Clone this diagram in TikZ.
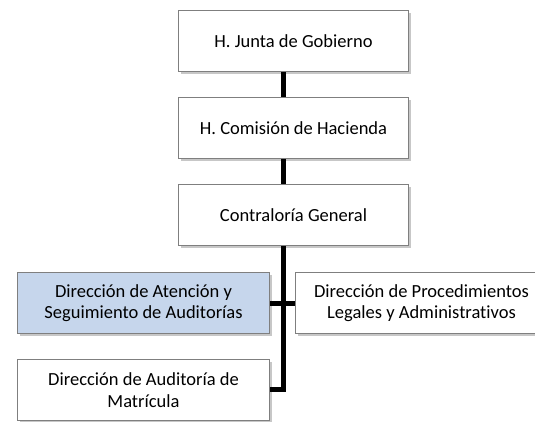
\documentclass[tikz,border=0pt]{standalone}
\usepackage{fontspec}
\setmainfont{Carlito}[Ligatures=NoCommon]
\usetikzlibrary{shadows}
\definecolor{boxline}{HTML}{7F7F7F}
\definecolor{bluefill}{HTML}{C6D6EC}
\tikzset{
  orgbox/.style={draw=boxline, line width=1pt, fill=white, minimum width=#1, minimum height=61pt, align=center, inner sep=0pt,
    font=\fontsize{18.5}{21.5}\selectfont,
    drop shadow={shadow xshift=2pt, shadow yshift=-2.5pt, opacity=0.22, fill=black}},
  orgbox/.default=230pt,
  link/.style={line width=5pt, line cap=butt}
}
\begin{document}
\begin{tikzpicture}[x=1pt,y=-1pt]
\useasboundingbox (0,0) rectangle (535,422);
\begin{scope}
\clip (0,0) rectangle (535,422);
\node[orgbox=230pt, anchor=north west] (jg) at (178,10) {H. Junta de Gobierno};
\node[orgbox=230pt, anchor=north west] (ch) at (178,97) {H. Comisión de Hacienda};
\node[orgbox=230pt, anchor=north west] (cg) at (178,184) {Contraloría General};
\node[orgbox=252pt, anchor=north west, fill=bluefill] (das) at (17,272) {Dirección de Atención y\\Seguimiento de Auditorías};
\node[orgbox=252pt, anchor=north west] (dpl) at (295,272) {Dirección de Procedimientos\\Legales y Administrativos};
\node[orgbox=252pt, anchor=north west] (dam) at (17,359) {Dirección de Auditoría de\\Matrícula};
\coordinate (bend) at (283,389);
\draw[link] (jg.south -| bend) -- (ch.north -| bend);
\draw[link] (ch.south -| bend) -- (cg.north -| bend);
\draw[link, line join=miter] (cg.south -| bend) -- (bend) -- (bend -| dam.east);
\draw[link] (das.east) -- (dpl.west);
\end{scope}
\end{tikzpicture}
\end{document}
